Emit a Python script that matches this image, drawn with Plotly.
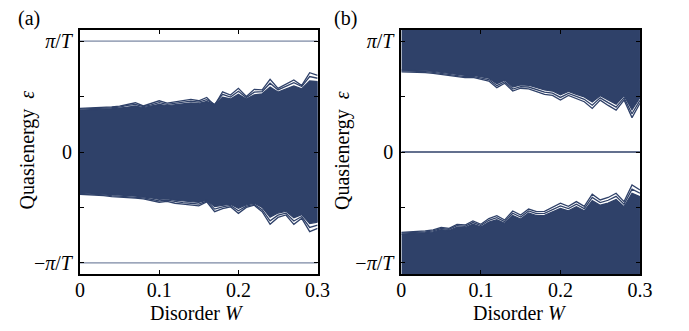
import plotly.graph_objects as go

# Disorder grid
W = [round(0.01 * i, 2) for i in range(31)]

# Panel (a): quasienergy in units of pi/T, outer band-edge levels
a_top1 = [.394,.396,.399,.402,.407,.414,.432,.444,.415,.438,.462,.440,.452,.466,.474,.462,.492,.420,.543,.513,.574,.500,.565,.560,.655,.574,.610,.650,.600,.715,.690]
a_top2 = [.386,.388,.391,.394,.399,.405,.420,.428,.410,.425,.445,.430,.440,.452,.458,.450,.472,.430,.520,.495,.548,.490,.540,.545,.620,.560,.590,.625,.590,.680,.665]
a_top3 = [.378,.380,.383,.386,.390,.396,.408,.414,.400,.412,.430,.418,.428,.438,.442,.438,.455,.425,.495,.478,.520,.478,.515,.525,.585,.540,.565,.595,.570,.640,.635]
a_bot1 = [-.381,-.384,-.388,-.394,-.402,-.405,-.410,-.416,-.423,-.438,-.453,-.445,-.462,-.470,-.478,-.486,-.450,-.538,-.510,-.494,-.553,-.500,-.480,-.538,-.652,-.590,-.568,-.652,-.598,-.718,-.688]
a_bot2 = [-.373,-.376,-.380,-.386,-.393,-.397,-.401,-.407,-.413,-.426,-.440,-.434,-.448,-.456,-.462,-.470,-.442,-.515,-.494,-.482,-.530,-.488,-.472,-.520,-.620,-.570,-.552,-.622,-.582,-.680,-.660]
a_bot3 = [-.365,-.368,-.372,-.378,-.384,-.388,-.392,-.398,-.403,-.414,-.427,-.423,-.434,-.442,-.447,-.455,-.434,-.492,-.478,-.470,-.508,-.476,-.462,-.500,-.588,-.550,-.535,-.592,-.565,-.645,-.632]
a_modes = [1.0, -1.0]          # pi modes

# Panel (b): bands around +/- pi/T, inner band-edge levels
b_up1 = [.723,.722,.720,.716,.709,.700,.688,.680,.670,.672,.658,.640,.580,.620,.550,.575,.570,.545,.520,.510,.468,.510,.480,.453,.393,.468,.420,.378,.468,.310,.440]
b_up2 = [.731,.730,.728,.724,.718,.709,.698,.690,.680,.682,.670,.653,.598,.634,.568,.590,.586,.562,.540,.530,.492,.528,.500,.475,.422,.488,.445,.405,.488,.345,.465]
b_up3 = [.739,.738,.736,.732,.727,.718,.708,.700,.690,.692,.682,.666,.616,.648,.586,.605,.602,.579,.560,.550,.516,.546,.520,.497,.451,.508,.470,.432,.508,.380,.490]
b_lo1 = [-.724,-.722,-.718,-.712,-.703,-.679,-.688,-.652,-.658,-.622,-.652,-.600,-.574,-.613,-.532,-.568,-.514,-.538,-.535,-.500,-.462,-.490,-.447,-.490,-.381,-.432,-.410,-.372,-.447,-.297,-.342]
b_lo2 = [-.732,-.730,-.726,-.720,-.712,-.690,-.698,-.665,-.670,-.636,-.664,-.616,-.592,-.628,-.552,-.586,-.532,-.556,-.553,-.520,-.486,-.510,-.470,-.510,-.410,-.456,-.435,-.400,-.470,-.335,-.372]
b_lo3 = [-.740,-.738,-.734,-.728,-.721,-.701,-.708,-.678,-.682,-.650,-.676,-.632,-.610,-.643,-.572,-.604,-.550,-.574,-.571,-.540,-.510,-.530,-.493,-.530,-.439,-.480,-.460,-.428,-.493,-.373,-.402]
b_modes = [0.0]                # zero mode
b_band_outer = [1.2, -1.2]     # bands continue past the plotted window

NAVY = "#2f4169"
FONT = "Liberation Serif"
FS = 20

fig = go.Figure()

def line(x, y, xa, ya, color=NAVY, width=1.3):
    fig.add_trace(go.Scatter(x=x, y=y, mode="lines", line=dict(color=color, width=width),
                             xaxis=xa, yaxis=ya, showlegend=False, hoverinfo="skip"))

def band(lower, upper, xa, ya):
    fig.add_trace(go.Scatter(x=W + W[::-1], y=upper + lower[::-1], mode="lines",
                             fill="toself", fillcolor=NAVY, line=dict(color=NAVY, width=1.3),
                             xaxis=xa, yaxis=ya, showlegend=False, hoverinfo="skip"))

# Panel (a)
band(a_bot3, a_top3, "x", "y")
for s in (a_top1, a_top2, a_bot1, a_bot2):
    line(W, s, "x", "y")
for m in a_modes:
    line([W[0], W[-1]], [m, m], "x", "y", color="#5a6a8c", width=1)

# Panel (b)
band(b_up3, [b_band_outer[0]] * len(W), "x2", "y2")
band([b_band_outer[1]] * len(W), b_lo3, "x2", "y2")
for s in (b_up1, b_up2, b_lo1, b_lo2):
    line(W, s, "x2", "y2")
for m in b_modes:
    line([W[0], W[-1]], [m, m], "x2", "y2", width=1.3)

xticks = [0, 0.1, 0.2, 0.3]
xtext = ["0", "0.1", "0.2", "0.3"]
yticks = [-1, -0.5, 0, 0.5, 1]
ytext = ["−<i>π</i>/<i>T</i>", "", "0", "", "<i>π</i>/<i>T</i>"]

ax_common = dict(showline=True, linewidth=2, linecolor="black", mirror="ticks",
                 ticks="inside", ticklen=4, tickwidth=1, tickcolor="black",
                 showgrid=False, zeroline=False, tickfont=dict(family=FONT, size=FS, color="black"))

ydom = [57 / 331, 301 / 331]
fig.update_layout(
    width=689, height=331, margin=dict(l=0, r=0, t=0, b=0),
    paper_bgcolor="white", plot_bgcolor="white",
    xaxis=dict(domain=[77 / 689, 321 / 689], range=[0, 0.3], tickvals=xticks, ticktext=xtext,
               ticklabelstandoff=-3, anchor="y", **ax_common),
    yaxis=dict(domain=ydom, range=[-1.1, 1.1], tickvals=yticks, ticktext=ytext,
               ticklabelstandoff=2, anchor="x", **ax_common),
    xaxis2=dict(domain=[407 / 689, 652 / 689], range=[0, 0.3], tickvals=xticks, ticktext=xtext,
                ticklabelstandoff=-3, anchor="y2", **ax_common),
    yaxis2=dict(domain=ydom, range=[-1.1, 1.1], tickvals=yticks, ticktext=ytext,
                ticklabelstandoff=2, anchor="x2", **ax_common),
)

ann_font = dict(family=FONT, size=FS, color="black")
for txt, x, y, ang in [
    ("(a)", 25, 19, 0), ("(b)", 350, 19, 0),
    ("Quasienergy &nbsp;<i>ε</i>", 23, 150, -90), ("Quasienergy &nbsp;<i>ε</i>", 346, 150, -90),
    ("Disorder <i>W</i>", 197, 313, 0), ("Disorder <i>W</i>", 529, 313, 0),
]:
    fig.add_annotation(text=txt, x=x / 689, y=1 - y / 331, xref="paper", yref="paper",
                       showarrow=False, textangle=ang, font=ann_font,
                       xanchor="center", yanchor="middle")

fig.write_html("out.html")
